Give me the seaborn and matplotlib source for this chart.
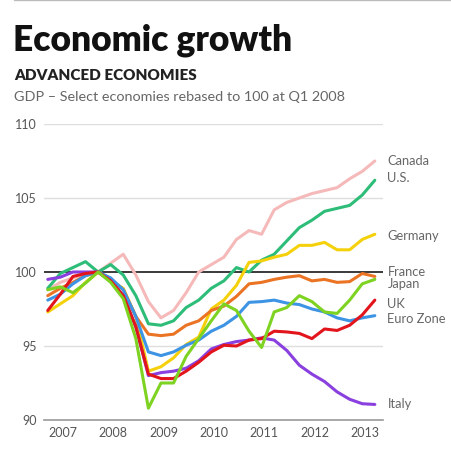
import numpy as np
import pandas as pd
import matplotlib
matplotlib.use("Agg")
import matplotlib.pyplot as plt
import seaborn as sns
from matplotlib.lines import Line2D

# ---------------- data (quarterly, Q1 2007 .. Q3 2013, Q1 2008 = 100) ----------------
quarters = [f"{y}Q{q}" for y in range(2007, 2014) for q in range(1, 5)][:27]

canada = [98.8, 99.3, 99.6, 99.9, 100.0, 100.6, 101.2, 99.8, 98.0, 96.9, 97.4, 98.6,
          100.0, 100.5, 101.0, 102.2, 102.8, 102.55, 104.2, 104.7, 105.0, 105.3, 105.5,
          105.7, 106.3, 106.8, 107.5]
us = [98.9, 99.9, 100.3, 100.7, 100.0, 100.5, 99.8, 98.4, 96.5, 96.4, 96.7, 97.6,
      98.1, 98.9, 99.4, 100.3, 100.0, 100.8, 101.2, 102.1, 103.0, 103.5, 104.1,
      104.3, 104.5, 105.2, 106.2]
germany = [97.3, 97.85, 98.4, 99.3, 100.0, 99.4, 98.9, 97.0, 93.3, 93.6, 94.2, 95.1,
           95.6, 97.5, 98.1, 99.1, 100.65, 100.75, 101.0, 101.2, 101.8, 101.8, 102.0,
           101.5, 101.5, 102.2, 102.55]
france = [98.4, 98.9, 99.3, 99.75, 100.0, 99.5, 98.8, 97.0, 95.8, 95.7, 95.8, 96.4,
          96.7, 97.4, 97.7, 98.35, 99.2, 99.3, 99.5, 99.65, 99.75, 99.4, 99.5,
          99.3, 99.35, 99.9, 99.7]
japan = [98.8, 99.0, 98.6, 99.25, 100.0, 99.3, 98.2, 95.5, 90.8, 92.5, 92.5, 94.3,
         95.5, 96.7, 97.85, 97.4, 96.0, 94.9, 97.3, 97.6, 98.4, 98.0, 97.3,
         97.2, 98.1, 99.2, 99.5]
uk = [97.4, 98.5, 99.7, 99.9, 100.0, 99.4, 98.4, 96.3, 93.1, 92.8, 92.8, 93.3,
      93.9, 94.6, 95.05, 95.0, 95.4, 95.5, 96.0, 95.95, 95.85, 95.5, 96.15,
      96.05, 96.4, 97.1, 98.1]
eurozone = [98.1, 98.5, 99.2, 99.75, 100.0, 99.6, 98.8, 97.0, 94.6, 94.35, 94.6, 95.05,
            95.4, 96.0, 96.4, 97.0, 97.95, 98.0, 98.1, 97.9, 97.8, 97.5, 97.3,
            96.9, 96.7, 96.9, 97.05]
italy = [99.5, 99.65, 100.0, 100.0, 100.0, 99.4, 98.4, 96.3, 93.0, 93.2, 93.3, 93.5,
         94.0, 94.8, 95.1, 95.3, 95.4, 95.55, 95.4, 94.7, 93.7, 93.1, 92.6,
         91.9, 91.4, 91.1, 91.05]

countries = ["Canada", "U.S.", "Germany", "France", "Euro Zone", "Italy", "UK", "Japan"]
series = {"Canada": canada, "U.S.": us, "Germany": germany, "France": france,
          "Euro Zone": eurozone, "Italy": italy, "UK": uk, "Japan": japan}
colors = {"Canada": "#f6b9b9", "U.S.": "#2dbd78", "Germany": "#f5d10c", "France": "#ea7424",
          "Euro Zone": "#3d94e4", "Italy": "#8a3fdf", "UK": "#e2141c", "Japan": "#7ed322"}

label_order = ["Canada", "U.S.", "Germany", "France", "Japan", "UK", "Euro Zone", "Italy"]
label_pos = [107.47, 106.35, 102.43, 99.98, 99.2, 97.85, 96.85, 91.05]

years = ["2007", "2008", "2009", "2010", "2011", "2012", "2013"]
yticks = [90, 95, 100, 105, 110]

# ---------------- long table ----------------
rows = []
for c in countries:
    for i, v in enumerate(series[c]):
        rows.append({"idx": i, "quarter": quarters[i], "value": v, "country": c})
df = pd.DataFrame(rows)

# ---------------- figure ----------------
sns.set_theme(style="white")
plt.rcParams["font.family"] = ["Lato", "DejaVu Sans"]

fig = plt.figure(figsize=(4.52, 4.50), dpi=100)
ax = fig.add_axes([44 / 452, 30 / 450, 339 / 452, 296 / 450])

for y in [95, 105, 110]:
    ax.axhline(y, color="#dedede", lw=1.0, zorder=0)
ax.axhline(100, color="#3a3a3a", lw=1.4, zorder=1)

sns.lineplot(data=df, x="idx", y="value", hue="country", hue_order=countries,
             palette=colors, linewidth=2.2, legend=False, ax=ax, zorder=3)

ax.set_xlim(-0.3, 26.65)
ax.set_ylim(90, 110)
ax.set_xlabel("")
ax.set_ylabel("")

for s in ["top", "right", "left"]:
    ax.spines[s].set_visible(False)
ax.spines["bottom"].set_color("#9a9a9a")
ax.spines["bottom"].set_linewidth(1.2)

ax.set_yticks(yticks)
ax.set_yticklabels([str(t) for t in yticks], color="#555555", fontsize=9)
ax.tick_params(axis="y", length=0, pad=5)

ax.set_xticks([3.5 + 4 * k for k in range(6)])
ax.set_xticklabels([])
ax.tick_params(axis="x", direction="out", length=4.5, width=1.0, color="#888888")
ax.set_xticks([1.2 + 4 * k for k in range(7)], minor=True)
ax.set_xticklabels(years, minor=True, color="#555555", fontsize=9)
ax.tick_params(axis="x", which="minor", length=0, pad=5)

for name, yv in zip(label_order, label_pos):
    ax.text(27.0, yv, name, color="#666666", fontsize=9.3, va="center", ha="left",
            clip_on=False)

# titles
fig.text(13 / 452, 1 - 40 / 450, "Economic growth", fontsize=25.5, fontweight="heavy",
         color="#111111", va="center", ha="left")
fig.text(14 / 452, 1 - 75 / 450, "ADVANCED ECONOMIES", fontsize=11, fontweight="heavy",
         color="#222222", va="center", ha="left")
fig.text(14 / 452, 1 - 97 / 450, "GDP \u2013 Select economies rebased to 100 at Q1 2008",
         fontsize=10.4, color="#666666", va="center", ha="left")
fig.add_artist(Line2D([0.03, 1.0], [0.999, 0.999], color="#bbbbbb", lw=1.0,
                      transform=fig.transFigure))

fig.savefig("out.png", dpi=100)
